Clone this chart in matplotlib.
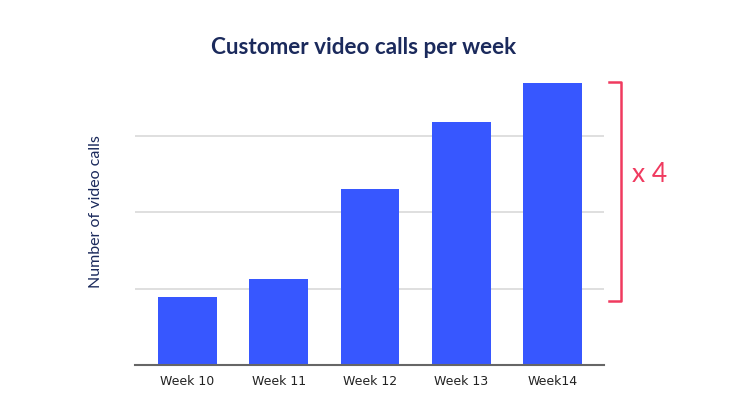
import matplotlib
matplotlib.use("Agg")
import matplotlib.pyplot as plt
import matplotlib.transforms as mtrans

weeks = ["Week 10", "Week 11", "Week 12", "Week 13", "Week14"]
calls = [8.9, 11.2, 23.0, 31.8, 36.9]
grid_vals = [10, 20, 30]

fig = plt.figure(figsize=(7.4, 4.16), dpi=100)
ax = fig.add_axes([135/740, 1-365/416, (604-135)/740, (365-74.3)/416])

x = list(range(len(weeks)))
ax.bar(x, calls, width=0.645, color="#3757FF", zorder=3)
ax.set_xlim(-0.575, 4.565)
ax.set_ylim(0, 38)
ax.set_yticks(grid_vals)
ax.set_yticklabels([])
ax.tick_params(axis="y", length=0)
ax.grid(axis="y", color="#d9d9d9", linewidth=1.2, zorder=0)
ax.set_xticks(x)
ax.set_xticklabels(weeks, fontsize=9, color="#222222", family="DejaVu Sans")
ax.tick_params(axis="x", length=0, pad=7)
for s in ["top", "right", "left"]:
    ax.spines[s].set_visible(False)
ax.spines["bottom"].set_color("#666666")
ax.spines["bottom"].set_linewidth(1.5)
ax.spines["bottom"].set_zorder(4)

fig.text(96/740, 1-212/416, "Number of video calls", family="Lato", fontsize=11.5,
         color="#1B2A5C", rotation=90, ha="center", va="center")
fig.text(364/740, 1-47/416, "Customer video calls per week", ha="center", va="center",
         family="Lato", fontweight="bold", fontsize=16.2, color="#1B2A5C")

# bracket
tr = mtrans.blended_transform_factory(ax.transAxes, ax.transData)
bot, top = 8.4, 37.0
xr, xt = (621-135)/469, (609-135)/469
col = "#F03A5F"
ax.plot([xt, xr, xr, xt], [top, top, bot, bot], color=col, lw=1.8, transform=tr, clip_on=False)
ax.text((632-135)/469, (365-175)/7.65, "x 4", transform=tr, fontsize=19, color=col,
        family="Lato", ha="left", va="center")

fig.savefig("out.png", dpi=100)
